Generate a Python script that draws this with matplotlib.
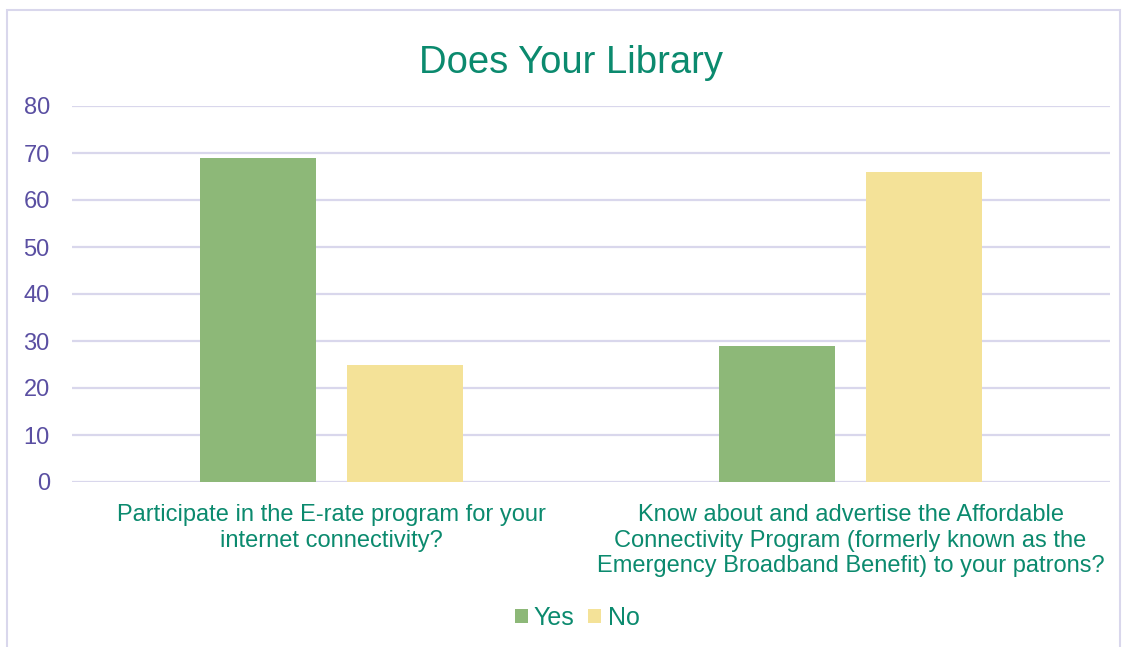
import numpy as np
import matplotlib.pyplot as plt
from matplotlib.patches import Rectangle

categories = ["Participate in the E-rate program for your\ninternet connectivity?",
              "Know about and advertise the Affordable\nConnectivity Program (formerly known as the\nEmergency Broadband Benefit) to your patrons?"]
yes_vals = [69, 29]
no_vals = [25, 66]
yticks = [0, 10, 20, 30, 40, 50, 60, 70, 80]

teal = "#0b8a6e"
purple = "#5a4fa2"
grid_col = "#d9d7ec"

fig = plt.figure(figsize=(11.26, 6.47), dpi=100)
ax = fig.add_axes([72 / 1126, 1 - 482 / 647, 1038 / 1126, 376 / 647])

x = np.arange(len(categories))
w = 0.225
off = 0.1415
ax.bar(x - off, yes_vals, w, color="#8db878", label="Yes", zorder=3)
ax.bar(x + off, no_vals, w, color="#f4e298", label="No", zorder=3)

ax.set_xlim(-0.5, 1.5)
ax.set_ylim(0, 80)
ax.set_yticks(yticks)
ax.yaxis.grid(True, color=grid_col, linewidth=1.6, zorder=0)
ax.set_axisbelow(True)
for s in ax.spines.values():
    s.set_visible(False)
ax.tick_params(axis="y", length=0, labelsize=17, labelcolor=purple, pad=16)
ax.tick_params(axis="x", length=0, labelsize=17, labelcolor=teal, pad=16)
ax.set_xticks(x)
ax.set_xticklabels(categories, linespacing=1.2)
for lab in ax.get_yticklabels():
    lab.set_fontfamily("Liberation Sans")
for lab in ax.get_xticklabels():
    lab.set_fontfamily("Liberation Sans")

fig.text(571 / 1126, 1 - 63 / 647, "Does Your Library", ha="center", va="center",
         color=teal, fontsize=27.5, family="Liberation Sans")

leg = fig.legend(loc="center", bbox_to_anchor=(577 / 1126, 1 - 618 / 647), ncol=2,
                 frameon=False, handlelength=0.52, handleheight=0.52, handletextpad=0.25,
                 columnspacing=0.55, prop={"family": "Liberation Sans", "size": 18})
for t in leg.get_texts():
    t.set_color(teal)

# outer chart frame
fig.patches.append(Rectangle((7 / 1126, -0.05), 1113 / 1126, 1 - 10 / 647 + 0.05,
                             transform=fig.transFigure, fill=False,
                             edgecolor=grid_col, linewidth=1.5))

fig.savefig("out.png", dpi=100)
